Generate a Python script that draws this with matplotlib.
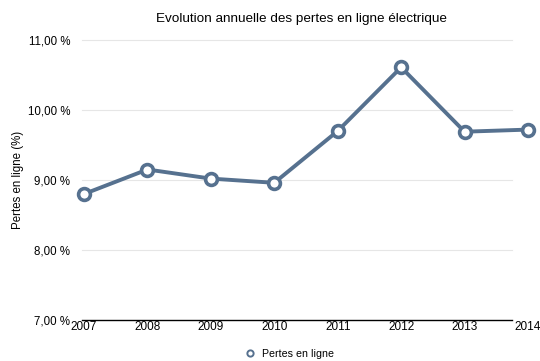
import matplotlib.pyplot as plt
from matplotlib.lines import Line2D

plt.rcParams["font.family"] = ["Liberation Sans", "DejaVu Sans"]

years = [2007, 2008, 2009, 2010, 2011, 2012, 2013, 2014]
pertes = [8.80, 9.15, 9.02, 8.96, 9.70, 10.61, 9.69, 9.72]
y_ticks = [7.0, 8.0, 9.0, 10.0, 11.0]
y_labels = ["7,00 %", "8,00 %", "9,00 %", "10,00 %", "11,00 %"]

color = "#56718f"

fig = plt.figure(figsize=(5.4, 3.61), dpi=100)
ax = fig.add_axes([84 / 540, 41 / 361, 444 / 540, 280 / 361])

# light horizontal grid, stopping short of the last year like the base line
for yv in y_ticks[1:]:
    ax.axhline(yv, xmin=-0.005, xmax=0.965, color="#e6e6e6", lw=0.8, clip_on=False, zorder=0)
ax.axhline(7.0, xmin=-0.005, xmax=0.965, color="black", lw=1.0, clip_on=False, zorder=1)

ax.plot(years, pertes, color=color, lw=2.8, marker="o", ms=8.5,
        mfc="white", mec=color, mew=2.6, clip_on=False, zorder=3)

ax.set_xlim(2007, 2014)
ax.set_ylim(7.0, 11.0)
ax.set_xticks(years)
ax.set_xticklabels([str(y) for y in years], fontsize=8.5)
ax.set_yticks(y_ticks)
ax.set_yticklabels(y_labels, fontsize=8.3)
ax.tick_params(length=0)
ax.tick_params(axis="x", pad=1)
ax.tick_params(axis="y", pad=10)
for s in ax.spines.values():
    s.set_visible(False)

ax.set_ylabel("Pertes en ligne (%)", fontsize=8.3)
ax.yaxis.set_label_coords(-0.135, 0.5)

fig.text(301 / 540, 1 - 19 / 361, "Evolution annuelle des pertes en ligne électrique",
         ha="center", va="center", fontsize=9.7)

handle = Line2D([], [], color=color, marker="o", ls="none", ms=4.5, mfc="white", mew=1.4)
fig.legend([handle], ["Pertes en ligne"], loc="center", bbox_to_anchor=(289 / 540, 1 - 354 / 361),
           frameon=False, fontsize=7.7, handletextpad=0.6, handlelength=1.0)

fig.savefig("out.png", dpi=100)
